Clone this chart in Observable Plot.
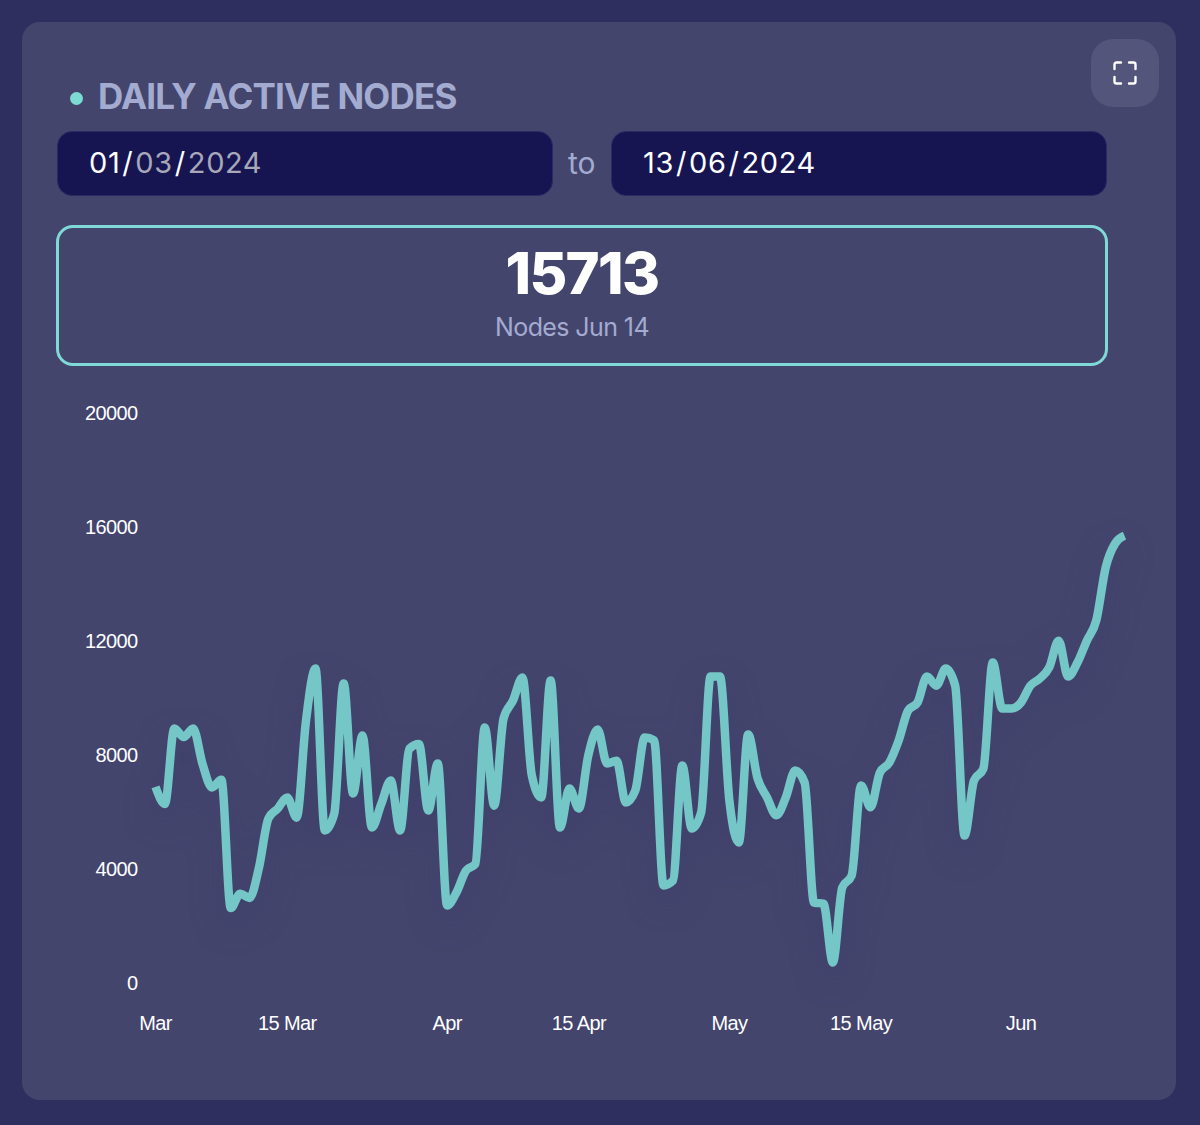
<!DOCTYPE html>
<html>
<head>
<meta charset="utf-8">
<script src="https://cdn.jsdelivr.net/npm/d3@7"></script>
<script src="https://cdn.jsdelivr.net/npm/@observablehq/plot@0.6"></script>
<style>
html,body{margin:0;padding:0;width:1200px;height:1125px;overflow:hidden;background:#2e2f5e;}
body{position:relative;font-family:Inter,"Noto Sans",sans-serif;}
.abs{position:absolute;}
#card{left:22px;top:22px;width:1154px;height:1078px;background:#44456d;border-radius:18px;}
#btn{left:1091px;top:39px;width:68px;height:68px;background:#54557b;border-radius:22px;}
#icon{left:1113px;top:61px;}
#dot{left:70px;top:92px;width:13px;height:13px;border-radius:50%;background:#7cdcd2;}
#title{left:98px;top:76px;font-size:35px;line-height:40px;font-weight:700;letter-spacing:-0.8px;color:#a3abd0;white-space:nowrap;}
.date{top:131px;height:65px;width:496px;background:#161551;border:1px solid #2b2b62;border-radius:15px;font-size:29px;line-height:62px;letter-spacing:0.6px;color:#fff;font-weight:400;box-sizing:border-box;padding-left:31px;white-space:nowrap;}
.date span.m{color:#a8a8b8;}
.date span.s{margin:0 2px;}
#d1{left:57px;}
#d2{left:611px;}
#to{left:568px;top:145px;font-size:30px;line-height:36px;color:#a3abd0;}
#box{left:56px;top:225px;width:1052px;height:141px;box-sizing:border-box;border:3.5px solid #7fd9d6;border-radius:17px;}
#big{left:400px;width:364px;top:240px;text-align:center;font-size:58px;line-height:66px;font-weight:800;letter-spacing:-1.6px;color:#fff;}
#sub{left:400px;width:344px;top:312px;text-align:center;font-size:25px;line-height:30px;letter-spacing:-0.6px;color:#a3abd0;}
#chart{left:0;top:390px;}
#chart svg{display:block;overflow:visible;background:transparent;}
.trend path{filter:drop-shadow(0 14px 16px rgba(52,52,104,0.4));}
</style>
</head>
<body>
<div id="card" class="abs"></div>
<div id="btn" class="abs"></div>
<svg id="icon" class="abs" width="24" height="24" viewBox="0 0 24 24" fill="none" stroke="#ffffff" stroke-width="2.4" stroke-linecap="round">
  <path d="M1.5 8 V3.5 Q1.5 1.5 3.5 1.5 H8"/>
  <path d="M16 1.5 H20.5 Q22.5 1.5 22.5 3.5 V8"/>
  <path d="M1.5 16 V20.5 Q1.5 22.5 3.5 22.5 H8"/>
  <path d="M16 22.5 H20.5 Q22.5 22.5 22.5 20.5 V16"/>
</svg>
<div id="dot" class="abs"></div>
<div id="title" class="abs">DAILY ACTIVE NODES</div>
<div id="d1" class="abs date">01<span class="s">/</span><span class="m">03</span><span class="s">/</span><span class="m">2024</span></div>
<div id="to" class="abs">to</div>
<div id="d2" class="abs date">13<span class="s">/</span>06<span class="s">/</span>2024</div>
<div id="box" class="abs"></div>
<div id="big" class="abs">15713</div>
<div id="sub" class="abs">Nodes Jun 14</div>
<div id="chart" class="abs"></div>
<script>
const startDate = "2024-03-01";
const nodes = [
  6900,6300,8950,8650,8950,7700,6880,7150,2650,3150,3000,4070,5790,6140,6530,5820,
  9230,11050,5370,5960,10530,6670,8700,5470,6300,7120,5370,8240,8400,6070,7720,
  2740,3200,3960,4200,8980,6240,9300,9930,10740,7300,6530,10630,5470,6840,6140,
  8000,8910,7720,7820,6350,6770,8630,8530,3440,3610,7650,5440,6000,10770,10770,
  6420,4950,8740,7190,6530,5900,6530,7470,7050,2840,2800,740,3370,3790,6950,6180,
  7400,7750,8530,9580,9860,10770,10450,11050,10450,5190,7120,7540,11260,9650,9650,
  9860,10450,10700,11090,12030,10770,11260,12030,12740,14600,15440,15713
];
const yTicks = [0,4000,8000,12000,16000,20000];
const xTickDates = ["2024-03-01","2024-03-15","2024-04-01","2024-04-15","2024-05-01","2024-05-15","2024-06-01"];
const xTickLabels = ["Mar","15 Mar","Apr","15 Apr","May","15 May","Jun"];

const t0 = new Date(startDate + "T00:00:00Z");
const rows = nodes.map((v, i) => ({date: d3.utcDay.offset(t0, i), value: v}));
const tickDates = xTickDates.map(d => new Date(d + "T00:00:00Z"));
const labelOf = new Map(tickDates.map((d, i) => [+d, xTickLabels[i]]));

const plot = Plot.plot({
  width: 1200,
  height: 660,
  marginLeft: 155,
  marginRight: 76,
  marginTop: 23,
  marginBottom: 67,
  style: {background: "transparent", overflow: "visible"},
  x: {type: "utc", domain: [rows[0].date, rows[rows.length - 1].date]},
  y: {domain: [0, 20000]},
  marks: [
    Plot.axisY({ticks: yTicks, tickSize: 0, tickPadding: 18, label: null, tickFormat: d3.format("d"),
      fontSize: 20, fill: "#ffffff", fontFamily: "'Liberation Sans',Arial,sans-serif"}),
    Plot.axisX({ticks: tickDates, tickSize: 0, tickPadding: 32, label: null, tickFormat: d => labelOf.get(+d),
      fontSize: 20, fill: "#ffffff", fontFamily: "'Liberation Sans',Arial,sans-serif"}),
    Plot.line(rows, {x: "date", y: "value", stroke: "#74c7c6", strokeWidth: 8.5, curve: "monotone-x",
      strokeLinejoin: "round", strokeLinecap: "butt", className: "trend"})
  ]
});
document.getElementById("chart").appendChild(plot);
d3.select(plot).selectAll("g[aria-label$='axis'] text, g[aria-label*='tick label'] text").style("letter-spacing", "-0.6px");
</script>
</body>
</html>
